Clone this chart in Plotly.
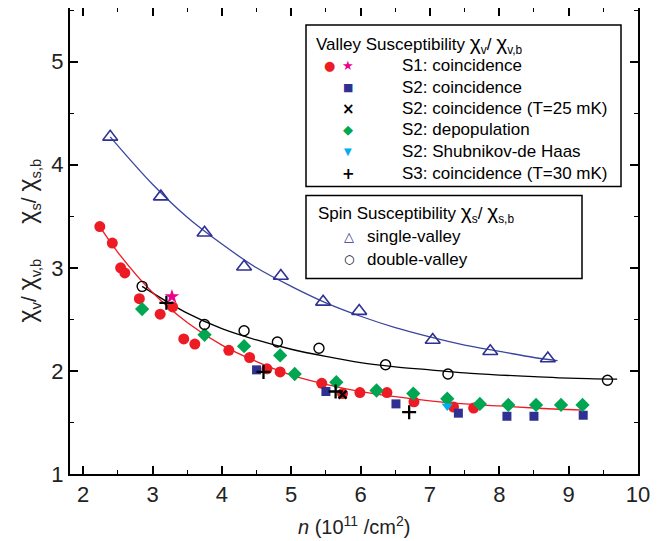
import plotly.graph_objects as go

# ---------------- data ----------------
s1_x = [2.24, 2.42, 2.54, 2.60, 2.81, 3.11, 3.29, 3.45, 3.61, 4.10, 4.40, 4.65, 4.84, 5.44, 5.74, 5.99, 6.38, 6.77, 7.34, 7.63]
s1_y = [3.40, 3.24, 3.00, 2.95, 2.70, 2.55, 2.62, 2.31, 2.26, 2.20, 2.13, 2.02, 1.99, 1.88, 1.78, 1.79, 1.79, 1.70, 1.65, 1.64]
s1_star_x = [3.28]
s1_star_y = [2.72]
s2_x = [4.50, 5.50, 6.51, 7.41, 8.11, 8.50, 9.21]
s2_y = [2.01, 1.80, 1.68, 1.59, 1.56, 1.56, 1.57]
s2_25mk_x = [5.74]
s2_25mk_y = [1.77]
s2_dep_x = [2.85, 3.75, 4.32, 4.84, 5.05, 5.65, 6.23, 6.76, 7.25, 7.72, 8.13, 8.53, 8.89, 9.20]
s2_dep_y = [2.60, 2.35, 2.24, 2.15, 1.97, 1.89, 1.81, 1.78, 1.73, 1.68, 1.67, 1.67, 1.67, 1.67]
s2_sdh_x = [7.25]
s2_sdh_y = [1.66]
s3_x = [3.20, 4.60, 5.64, 6.70]
s3_y = [2.66, 1.99, 1.80, 1.60]
single_x = [2.39, 3.12, 3.75, 4.32, 4.85, 5.46, 5.98, 7.04, 7.87, 8.70]
single_y = [4.27, 3.69, 3.34, 3.01, 2.92, 2.67, 2.58, 2.30, 2.19, 2.12]
double_x = [2.85, 3.75, 4.32, 4.80, 5.40, 6.36, 7.26, 9.56]
double_y = [2.82, 2.45, 2.39, 2.28, 2.22, 2.06, 1.97, 1.91]

# fitted curves
fit_single_x = [2.39, 3.0, 3.5, 4.0, 4.5, 5.0, 5.5, 6.0, 6.5, 7.0, 7.5, 8.0, 8.5, 8.84]
fit_single_y = [4.27, 3.81, 3.49, 3.23, 3.00, 2.82, 2.66, 2.53, 2.42, 2.33, 2.25, 2.19, 2.13, 2.10]
fit_valley_x = [2.2, 2.5, 3.0, 3.5, 4.0, 4.5, 5.0, 5.5, 6.0, 6.5, 7.0, 7.5, 8.0, 8.5, 9.2]
fit_valley_y = [3.44, 3.15, 2.76, 2.47, 2.25, 2.09, 1.96, 1.87, 1.80, 1.75, 1.71, 1.68, 1.66, 1.64, 1.62]
fit_double_x = [2.85, 3.5, 4.0, 4.5, 5.0, 5.5, 6.0, 6.5, 7.0, 7.5, 8.0, 8.5, 9.0, 9.7]
fit_double_y = [2.82, 2.56, 2.41, 2.30, 2.21, 2.14, 2.08, 2.04, 2.01, 1.98, 1.96, 1.945, 1.93, 1.92]

x_ticks = [2, 3, 4, 5, 6, 7, 8, 9, 10]
y_ticks = [1, 2, 3, 4, 5]

legend_valley_title = "Valley Susceptibility"
legend_valley_labels = ["S1: coincidence", "S2: coincidence", "S2: coincidence (T=25 mK)", "S2: depopulation",
                        "S2: Shubnikov-de Haas", "S3: coincidence (T=30 mK)"]
legend_spin_title = "Spin Susceptibility"
legend_spin_labels = ["single-valley", "double-valley"]

RED = "#ed1c24"
GREEN = "#00a651"
NAVY = "#2e3192"
CYAN = "#00aeef"
MAGENTA = "#ec008c"
FONT = "Liberation Sans, Arial, sans-serif"

fig = go.Figure()

def line(x, y, color):
    fig.add_trace(go.Scatter(x=x, y=y, mode="lines", line=dict(color=color, width=1.3, shape="spline"),
                             showlegend=False, hoverinfo="skip"))

line(fit_single_x, fit_single_y, "#3a45a0")
line(fit_double_x, fit_double_y, "#000000")
line(fit_valley_x, fit_valley_y, RED)

def pts(x, y, symbol, color, size, lw=0, lc=None):
    fig.add_trace(go.Scatter(x=x, y=y, mode="markers", showlegend=False,
                             marker=dict(symbol=symbol, color=color, size=size,
                                         line=dict(width=lw, color=lc if lc else color))))

pts(s1_x, s1_y, "circle", RED, 11)
pts(s2_x, s2_y, "square", NAVY, 9)
pts(s2_dep_x, s2_dep_y, "diamond", GREEN, 11)
pts(s2_sdh_x, s2_sdh_y, "triangle-down", CYAN, 10)
pts(s2_25mk_x, s2_25mk_y, "x-thin", "#000000", 8, 2.5, "#000000")
pts(s3_x, s3_y, "cross-thin", "#000000", 10, 2.3, "#000000")
pts(s1_star_x, s1_star_y, "star", MAGENTA, 11)
pts(single_x, single_y, "triangle-up-open", NAVY, 13, 1.6, NAVY)
pts(double_x, double_y, "circle-open", "#000000", 10, 1.4, "#000000")

# ---------------- layout ----------------
# target plot area in page pixels (page has an 8px body margin)
BODY = 8
L, R, T, B = 70, 638, 7, 474
W, H = 670 - BODY, 541 - BODY

def px(x):
    return (x - L) / (R - L)

def py(y):
    return (B - y) / (B - T)

shapes = [
    dict(type="rect", xref="paper", yref="paper", x0=px(306), x1=px(621), y0=py(186), y1=py(24),
         line=dict(color="#000000", width=1.5), fillcolor="white", layer="above"),
    dict(type="rect", xref="paper", yref="paper", x0=px(306), x1=px(582), y0=py(278), y1=py(195),
         line=dict(color="#000000", width=1.5), fillcolor="white", layer="above"),
]

ann = []
def text(x, y, s, size=17, color="#000000", anchor="left", angle=0):
    ann.append(dict(xref="paper", yref="paper", x=px(x), y=py(y), text=s, showarrow=False,
                    xanchor=anchor, yanchor="middle", textangle=angle,
                    font=dict(family=FONT, size=size, color=color)))

def glyph(x, y, s, size, color):
    ann.append(dict(xref="paper", yref="paper", x=px(x), y=py(y), text=s, showarrow=False,
                    xanchor="center", yanchor="middle", font=dict(family="DejaVu Sans", size=size, color=color)))

CHI = "<span style='font-size:21px'>χ</span>"
text(314, 43, legend_valley_title + " " + CHI + "<sub>v</sub>/ " + CHI + "<sub>v,b</sub>")
rows = [65, 87, 108, 129, 151, 173]
for yy, lab in zip(rows, legend_valley_labels):
    text(400, yy, lab)
glyph(329, 65, "●", 13, RED)
glyph(348, 65, "★", 13, MAGENTA)
glyph(348, 87, "■", 11, NAVY)
glyph(348, 108, "<b>×</b>", 15, "#000000")
glyph(348, 129, "◆", 13, GREEN)
glyph(348, 151, "▼", 10, CYAN)
glyph(348, 173, "<b>+</b>", 15, "#000000")

text(316, 212, legend_spin_title + " " + CHI + "<sub>s</sub>/ " + CHI + "<sub>s,b</sub>")
text(365, 236, legend_spin_labels[0])
text(365, 259, legend_spin_labels[1])
glyph(349, 236, "△", 13, NAVY)
glyph(349, 259, "○", 12, "#000000")

# axis titles
text(354, 526, "<i>n</i> (10<sup>11</sup> /cm<sup>2</sup>)", size=20, color="#222222", anchor="center")
CHIY = "<span style='font-size:25px'>χ</span>"
text(28, 240, CHIY + "<sub>v</sub>/ " + CHIY + "<sub>v,b</sub>      " + CHIY + "<sub>s</sub>/ " + CHIY + "<sub>s,b</sub>",
     size=21, color="#222222", anchor="center", angle=-90)

axis_common = dict(showline=True, linewidth=2, linecolor="#000000", mirror="ticks",
                   ticks="inside", ticklen=8, tickwidth=1.6, tickcolor="#000000",
                   showgrid=False, zeroline=False, automargin=False,
                   tickfont=dict(family=FONT, size=22, color="#222222"))

fig.update_layout(
    width=W, height=H,
    margin=dict(l=L - BODY, r=W + BODY - R, t=0, b=H + BODY - B, autoexpand=False),
    paper_bgcolor="white", plot_bgcolor="white",
    font=dict(family=FONT, color="#222222"),
    shapes=shapes, annotations=ann,
    xaxis=dict(range=[1.81, 10.0], tickvals=x_ticks, ticktext=[str(v) for v in x_ticks],
               minor=dict(ticks="inside", ticklen=4, tickwidth=1.4, tickcolor="#000000", dtick=0.5, tick0=0),
               **axis_common),
    yaxis=dict(range=[1.0, 5.52], tickvals=y_ticks, ticktext=[str(v) for v in y_ticks],
               minor=dict(ticks="inside", ticklen=4, tickwidth=1.4, tickcolor="#000000", dtick=0.5, tick0=0),
               **axis_common),
)

fig.write_html("out.html")
